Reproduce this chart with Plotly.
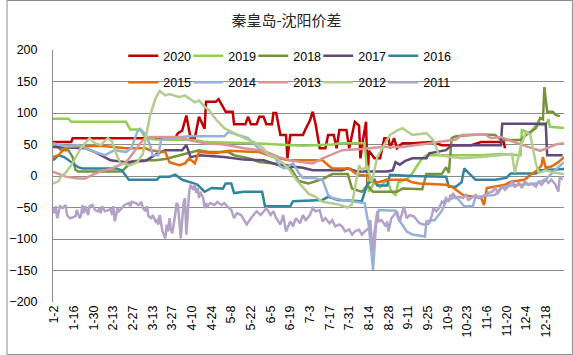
import plotly.graph_objects as go

# ---------------- data (day index: 1-1 = 0) ----------------
tick_days = [1, 15, 29, 43, 57, 71, 85, 99, 113, 127, 141, 155, 169, 183, 197,
             211, 225, 239, 253, 267, 281, 295, 309, 323, 337, 351]
tick_labels = ["1-2", "1-16", "1-30", "2-13", "2-27", "3-13", "3-27", "4-10", "4-24",
               "5-8", "5-22", "6-5", "6-19", "7-3", "7-17", "7-31", "8-14", "8-28",
               "9-11", "9-25", "10-9", "10-23", "11-6", "11-20", "12-4", "12-18"]

days_2020 = [0, 13, 14, 87, 89, 92, 95, 97, 98, 101, 104, 108, 109, 116, 118, 123, 128, 129,
             137, 139, 141, 145, 147, 150, 152, 156, 157, 159, 162, 166, 167, 169, 178, 180,
             183, 185, 187, 190, 194, 196, 200, 202, 204, 209, 211, 213, 215, 218, 219, 221,
             223, 224, 225, 229, 233, 236, 239, 240, 243, 245, 249, 256, 270, 277, 298, 305,
             321, 322]
vals_2020 = [54, 54, 60, 60, 68, 72, 96, 74, 60, 60, 94, 75, 118, 118, 122, 102, 102, 82,
             82, 94, 82, 82, 94, 94, 82, 82, 100, 100, 65, 65, 28, 65, 65, 75,
             88, 102, 83, 44, 44, 65, 65, 44, 73, 73, 44, 65, 86, 80, 28, 60,
             86, -12, 40, 28, 28, 60, 60, 44, 60, 44, 52, 52, 54, 49, 49, 54,
             54, 44]

days_2019 = [0, 11, 13, 52, 55, 62, 66, 73, 101, 108, 143, 157, 178, 199, 204, 222, 225,
             229, 233, 238, 241, 244, 246, 252, 256, 259, 263, 266, 305, 319, 333, 334,
             340, 344, 351, 353, 354, 364]
vals_2019 = [91, 91, 86, 86, 74, 74, 60, 58, 57, 54, 52, 50, 48, 50, 52, 52, -25,
             -10, -18, -5, -25, -30, -10, -5, 4, 15, 28, 33, 33, 35, 33, 73,
             68, 81, 81, 90, 78, 76]

days_2018 = [0, 4, 6, 11, 14, 16, 18, 49, 52, 56, 62, 73, 80, 90, 104, 111, 125, 129, 140,
             147, 157, 168, 175, 182, 192, 199, 210, 213, 220, 224, 228, 245, 249, 256, 263,
             266, 277, 280, 282, 284, 287, 298, 305, 315, 319, 333, 337, 344, 347, 349,
             350, 352, 356, 358, 361]
vals_2018 = [52, 45, 41, 41, 30, 10, 7, 7, 14, 23, 25, 25, 27, 33, 41, 38, 38, 33, 28,
             22, 20, 17, -8, -12, -5, 3, 3, -20, -25, -15, -25, -25, -20, -21, -21,
             3, 3, 14, 5, 60, 63, 65, 66, 65, 57, 57, 65, 76, 92, 90,
             141, 102, 102, 97, 95]

days_2017 = [0, 23, 30, 41, 52, 66, 74, 80, 92, 95, 98, 104, 122, 136, 150, 161, 178, 185,
             206, 210, 217, 238, 242, 244, 247, 251, 256, 266, 268, 280, 284, 319, 320,
             351, 352, 363]
vals_2017 = [46, 44, 38, 25, 22, 24, 35, 41, 41, 49, 30, 33, 30, 26, 25, 17, 13, 9,
             9, 12, 7, 7, 9, 22, 18, 24, 28, 28, 36, 41, 49, 49, 83,
             83, 33, 33]

days_2016 = [0, 4, 8, 13, 18, 21, 45, 49, 52, 54, 74, 76, 83, 87, 89, 92, 101, 103, 108,
             113, 121, 123, 127, 129, 136, 149, 151, 169, 171, 192, 196, 203, 220, 223,
             224, 229, 231, 238, 240, 256, 280, 282, 287, 291, 293, 296, 301, 315, 323,
             326, 344, 347, 364]
vals_2016 = [25, 33, 30, 22, 14, 12, 12, 9, -1, -6, -6, -1, -1, 2, -1, -6, -12, -14, -25,
             -19, -20, -12, -12, -27, -25, -25, -48, -48, -40, -38, -33, -38, -40, -20,
             -12, -6, -15, -15, 2, 0, -1, -17, -17, -10, 12, 5, -6, -6, -3,
             4, 4, 9, 11]

days_2015 = [0, 4, 7, 11, 34, 52, 66, 69, 80, 83, 90, 94, 97, 101, 104, 115, 125, 147,
             157, 168, 185, 192, 196, 199, 211, 215, 218, 225, 227, 232, 238, 252, 256,
             261, 280, 284, 289, 292, 305, 307, 309, 315, 322, 326, 336, 340, 345, 348,
             349, 351, 355, 360, 364]
vals_2015 = [30, 33, 41, 46, 48, 44, 44, 41, 38, 22, 17, 20, 28, 20, 38, 36, 40, 38,
             30, 25, 25, 25, 17, 12, 12, 5, 2, 0, -9, -10, -6, -6, -10,
             -12, -14, -17, -25, -30, -35, -46, -19, -17, -14, -9, -6, 2, 9, 17,
             30, 13, 15, 22, 30]

days_2014 = [0, 9, 18, 23, 30, 37, 44, 52, 56, 60, 62, 66, 69, 71, 75, 77, 83, 97, 122,
             125, 139, 146, 150, 157, 162, 165, 171, 175, 178, 185, 192, 196, 199, 206,
             222, 225, 228, 230, 232, 244, 246, 252, 256, 265, 266, 272, 277, 280, 287,
             293, 299, 301, 315, 319, 327, 344, 351, 358, 364]
vals_2014 = [52, 47, 49, 44, 38, 33, 41, 38, 45, 70, 75, 66, 50, 33, 33, 57, 60, 63, 63,
             70, 60, 45, 38, 33, 15, 12, 20, 5, -3, -3, -6, -30, -35, -38,
             -43, -80, -149, -80, -54, -55, -68, -88, -93, -96, -72, -70, -55, -40, -33,
             -48, -48, -33, -30, -18, -15, -12, -5, 10, 22]

days_2013 = [0, 6, 9, 18, 23, 29, 35, 42, 47, 52, 55, 60, 64, 69, 90, 97, 108, 122, 136,
             150, 161, 171, 185, 192, 199, 206, 220, 234, 249, 263, 277, 287, 291, 308,
             312, 319, 326, 333, 340, 347, 353, 358, 364]
vals_2013 = [7, 2, -1, -4, -4, 3, 8, 12, 17, 22, 30, 45, 57, 62, 62, 57, 52, 50, 44,
             40, 30, 24, 20, 28, 35, 41, 43, 46, 46, 50, 55, 58, 65, 66,
             60, 62, 56, 50, 45, 40, 46, 50, 52]

days_2012 = [0, 4, 6, 9, 13, 16, 20, 26, 30, 34, 39, 42, 44, 48, 55, 60, 64, 66, 69, 73,
             76, 80, 83, 90, 94, 101, 104, 108, 111, 116, 122, 129, 136, 143, 150, 153,
             158, 164, 169, 173, 178, 182, 187, 192, 203, 210, 213, 215, 218, 220, 224,
             227, 231, 236, 240, 245, 249, 256, 266, 271, 275, 284, 291, 305, 319, 327,
             329, 333, 337, 340, 344, 346, 351, 358, 364]
vals_2012 = [-12, -8, 0, 5, 17, 30, 45, 60, 52, 49, 60, 55, 41, 20, 17, 22, 35, 60, 95, 123,
             135, 128, 130, 125, 128, 117, 120, 110, 105, 90, 76, 68, 60, 54, 44, 33,
             30, 20, 8, -5, -17, -28, -33, -41, -45, -50, -45, -20, 17, 10, 15,
             -10, 30, 50, 65, 72, 76, 65, 68, 57, 33, 30, 28, 30, 33, 35,
             5, 45, 70, 65, 20, 5, 9, 5, 3]

days_2011 = [0, 1, 2, 3, 5, 7, 9, 10, 12, 16, 17, 19, 20, 21, 22, 23, 25, 26, 28, 30,
             32, 33, 34, 35, 37, 40, 41, 42, 43, 44, 46, 47, 49, 51, 54, 55, 56, 59, 61,
             63, 64, 66, 67, 68, 70, 71, 73, 74, 75, 76, 77, 78, 80, 81, 82, 83, 84, 85,
             87, 88, 89, 90, 91, 93, 94, 95, 96, 97, 98, 100, 101, 102, 103, 104, 105,
             107, 108, 109, 110, 112, 115, 117, 120, 122, 124, 127, 129, 131, 134, 138,
             141, 145, 148, 152, 155, 157, 159, 162, 164, 166, 169, 171, 173, 176, 178,
             180, 183, 185, 187, 190, 192, 194, 197, 199, 201, 204, 206, 208, 211, 213,
             215, 218, 220, 222, 225, 226, 227, 228, 229, 231, 232, 234, 237, 238, 239,
             241, 243, 245, 247, 250, 252, 254, 257, 259, 261, 264, 266, 268, 270, 271,
             273, 275, 277, 278, 280, 282, 283, 284, 285, 287, 289, 292, 294, 296, 299,
             301, 303, 306, 308, 310, 313, 315, 317, 320, 322, 325, 327, 329, 332, 334,
             336, 339, 341, 344, 346, 348, 351, 353, 355, 358, 360, 361, 363]
vals_2011 = [-51, -59, -48, -67, -48, -51, -46, -62, -67, -64, -54, -67, -62, -46, -59, -48,
             -62, -48, -46, -54, -56, -51, -59, -48, -56, -54, -51, -62, -48, -72, -51, -56,
             -51, -46, -43, -48, -41, -43, -46, -41, -51, -56, -48, -64, -67, -62, -72, -70,
             -77, -62, -75, -88, -99, -77, -88, -67, -85, -91, -62, -43, -46, -72, -99, -43,
             -35, -93, -48, -25, -14, -22, -14, -27, -19, -35, -25, -35, -51, -43, -48, -43,
             -46, -41, -46, -43, -48, -54, -67, -59, -62, -77, -67, -56, -62, -51, -62, -56,
             -67, -77, -62, -88, -72, -80, -67, -75, -62, -70, -62, -51, -56, -54, -72, -67,
             -75, -70, -80, -77, -80, -88, -85, -93, -88, -85, -93, -88, -83, -70, -100, -120,
             -90, -56, -72, -70, -80, -72, -88, -67, -62, -56, -72, -49, -67, -62, -64, -70,
             -75, -77, -77, -75, -62, -51, -56, -51, -41, -43, -35, -41, -30, -33, -27, -35,
             -33, -35, -30, -38, -33, -30, -35, -33, -30, -27, -25, -19, -27, -17, -22, -14,
             -9, -17, -11, -19, -9, -14, -12, -17, -9, -14, -6, -11, -6, -14, -25, -1, -6]

series = [
    ("2020", days_2020, vals_2020, "#C00000", "legend"),
    ("2019", days_2019, vals_2019, "#92D050", "legend"),
    ("2018", days_2018, vals_2018, "#77933C", "legend"),
    ("2017", days_2017, vals_2017, "#604A7B", "legend"),
    ("2016", days_2016, vals_2016, "#31859C", "legend"),
    ("2015", days_2015, vals_2015, "#E46C0A", "legend2"),
    ("2014", days_2014, vals_2014, "#95B3D7", "legend2"),
    ("2013", days_2013, vals_2013, "#D99694", "legend2"),
    ("2012", days_2012, vals_2012, "#B4CD8C", "legend2"),
    ("2011", days_2011, vals_2011, "#B3A2C7", "legend2"),
]

fig = go.Figure()
for i, (name, d, v, color, lg) in enumerate(series):
    last_in_row = (i == 4 or i == 9)
    fig.add_trace(go.Scatter(x=d, y=v, name=name, mode="lines", legend=lg,
                             legendwidth=40 if last_in_row else None,
                             line=dict(color=color, width=2.5)))

FONT = "Liberation Sans"
legend_common = dict(orientation="h", xanchor="left", yanchor="middle",
                     entrywidth=20, entrywidthmode="pixels", bgcolor="rgba(0,0,0,0)",
                     borderwidth=0, itemwidth=30, tracegroupgap=0,
                     font=dict(family=FONT, size=12.5, color="#000000"))

fig.update_layout(
    width=573, height=355,
    margin=dict(l=47, r=9, t=50, b=53),
    paper_bgcolor="white", plot_bgcolor="white",
    title=dict(text="秦皇岛-沈阳价差", x=0.5, xref="container", xanchor="center",
               y=1 - 21 / 355, yref="container", yanchor="middle",
               font=dict(family="Noto Sans CJK SC", size=15, color="#262626")),
    legend=dict(x=0.1375, y=1 - 6 / 252, **legend_common),
    legend2=dict(x=0.1375, y=1 - 32.5 / 252, **legend_common),
    xaxis=dict(range=[0, 364], tickmode="array", tickvals=tick_days, ticktext=tick_labels,
               tickangle=-90, showgrid=False, zeroline=False, showline=False,
               ticks="", tickfont=dict(family=FONT, size=12.5, color="#000000")),
    yaxis=dict(range=[-200, 200], dtick=50, tick0=0, showgrid=True,
               gridcolor="#8C8C8C", gridwidth=1, zeroline=False,
               showline=True, linecolor="#8C8C8C", linewidth=1,
               ticks="", ticklabelstandoff=12,
               tickfont=dict(family=FONT, size=12.5, color="#000000")),
    showlegend=True,
)

# outer chart border
fig.add_shape(type="rect", xref="paper", yref="paper",
              x0=(0.5 - 47) / 517, x1=(572.5 - 47) / 517,
              y0=(302 - 354.5) / 252, y1=(302 - 0.5) / 252,
              line=dict(color="#8C8C8C", width=1), layer="below")

fig.write_html("out.html", config={"displayModeBar": False},
               post_script="document.body.style.margin='0';document.body.style.overflow='hidden';")
